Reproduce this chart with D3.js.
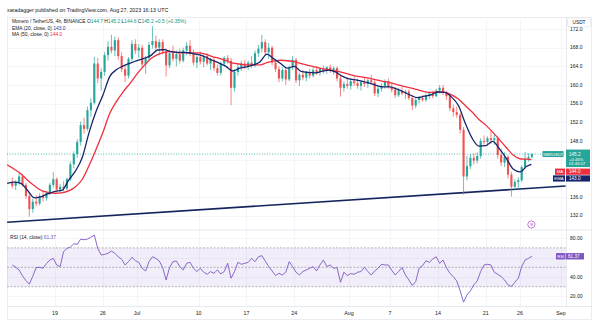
<!DOCTYPE html>
<html><head><meta charset="utf-8">
<script src="https://cdn.jsdelivr.net/npm/d3@7"></script>
<style>html,body{margin:0;padding:0;background:#fff;overflow:hidden}svg{display:block;font-family:"Liberation Sans",Arial,sans-serif}</style>
</head><body><svg id="c" width="600" height="324"></svg>
<script>
// ---------- data ----------
const candleStart = "2023-06-12T12:00:00Z"; // 12h candles
const ohlc = [
[139.0,140.2,137.8,138.4],[138.4,139.6,137.5,139.2],[139.2,141.2,138.6,140.4],[140.4,140.9,138.2,138.6],
[138.6,139.0,135.6,136.2],[136.2,136.8,131.8,133.4],[133.4,135.6,132.6,135.0],[135.0,136.4,134.0,134.6],
[134.6,136.8,134.2,136.2],[136.2,137.4,135.0,135.8],[135.8,137.2,135.2,136.9],[136.9,139.0,136.4,138.6],
[138.6,141.4,138.0,139.8],[139.8,140.2,137.0,137.6],[137.6,138.8,136.8,138.2],[138.2,139.4,137.2,137.8],
[137.8,140.2,137.4,139.8],[139.8,143.6,139.4,143.0],[143.0,145.8,142.2,145.2],[145.2,148.4,144.4,147.8],
[147.8,152.2,147.0,151.4],[151.4,153.0,149.6,150.6],[150.6,155.4,150.2,154.6],[154.6,157.2,153.2,156.2],
[156.2,166.0,155.8,164.6],[164.6,165.8,160.4,161.4],[161.4,163.6,158.8,162.8],[162.8,167.0,162.0,166.4],
[166.4,169.4,165.2,168.2],[168.2,170.8,166.8,167.4],[167.4,170.4,166.2,169.6],[169.6,170.2,165.4,166.2],
[166.2,167.0,162.8,163.4],[163.4,164.2,160.6,162.0],[162.0,166.0,161.4,165.6],[165.6,169.6,165.0,168.8],
[168.8,169.8,166.6,167.4],[167.4,168.8,165.8,168.0],[168.0,168.6,163.6,164.4],[164.4,166.2,162.4,165.8],
[165.8,169.2,165.2,168.6],[168.6,172.6,167.8,169.4],[169.4,170.6,167.0,168.0],[168.0,169.8,166.4,169.2],
[169.2,169.8,166.6,167.2],[167.2,167.8,161.8,164.2],[164.2,167.6,163.6,166.8],[166.8,168.4,165.0,165.6],
[165.6,167.4,164.0,166.6],[166.6,167.8,164.6,165.2],[165.2,168.0,164.8,167.4],[167.4,169.2,166.4,168.4],
[168.4,169.6,166.2,166.8],[166.8,167.6,164.2,164.8],[164.8,166.4,163.6,166.0],[166.0,167.2,164.4,165.0],
[165.0,166.6,163.8,166.2],[166.2,166.8,164.2,164.6],[164.6,165.8,163.2,165.4],[165.4,166.0,163.0,163.6],
[163.6,164.4,162.0,162.6],[162.6,165.0,162.0,164.6],[164.6,166.2,164.0,165.8],[165.8,166.4,164.6,165.2],
[165.2,165.8,155.7,159.4],[159.4,163.4,158.6,162.8],[162.8,164.6,162.0,163.8],[163.8,165.2,163.0,164.6],
[164.6,165.4,163.4,164.0],[164.0,165.2,163.2,164.8],[164.8,166.2,163.6,164.2],[164.2,167.4,163.8,166.8],
[166.8,168.6,166.0,167.8],[167.8,170.7,167.0,169.2],[169.2,169.8,166.4,167.0],[167.0,169.0,165.6,168.0],
[168.0,168.4,164.2,164.8],[164.8,165.6,162.8,163.4],[163.4,164.0,160.6,161.4],[161.4,163.8,160.8,163.2],
[163.2,163.8,160.0,161.2],[161.2,164.2,160.8,163.8],[163.8,166.2,163.2,165.4],[165.4,165.8,160.4,161.0],
[161.0,162.6,159.8,162.2],[162.2,163.2,161.0,161.6],[161.6,163.0,160.8,162.6],[162.6,163.4,161.4,162.0],
[162.0,163.8,161.6,163.2],[163.2,164.0,162.2,162.8],[162.8,163.8,162.0,163.4],[163.4,164.2,162.4,163.0],
[163.0,164.0,162.4,163.8],[163.8,164.4,162.6,163.2],[163.2,164.0,162.2,163.6],[163.6,164.0,160.8,161.4],
[161.4,162.0,157.5,159.4],[159.4,160.8,158.6,160.2],[160.2,161.6,159.2,159.8],[159.8,161.4,159.0,160.8],
[160.8,161.8,159.8,160.4],[160.4,161.4,159.2,159.8],[159.8,161.0,158.8,160.6],[160.6,161.6,159.6,160.2],
[160.2,161.4,159.4,161.0],[161.0,162.1,160.2,160.6],[160.6,161.0,157.6,158.2],[158.2,159.8,157.4,159.2],
[159.2,160.4,158.6,159.8],[159.8,161.2,159.2,160.8],[160.8,161.4,159.2,159.6],[159.6,160.4,158.4,159.0],
[159.0,159.6,157.2,157.8],[157.8,159.4,157.4,158.8],[158.8,159.6,157.8,158.2],[158.2,159.0,157.0,158.6],
[158.6,159.0,156.8,157.2],[157.2,157.8,154.6,155.6],[155.6,157.4,155.0,156.8],[156.8,157.6,156.0,157.2],
[157.2,157.8,156.4,156.8],[156.8,158.2,156.4,157.8],[157.8,158.6,157.0,158.2],[158.2,158.8,157.2,157.6],
[157.6,159.2,157.4,158.8],[158.8,160.0,158.2,159.4],[159.4,160.0,157.8,158.4],[158.4,158.8,156.8,157.6],
[157.6,158.0,154.4,155.0],[155.0,155.8,153.2,154.2],[154.2,155.4,153.0,153.6],[153.6,154.0,149.6,150.4],
[150.4,151.0,136.5,140.4],[140.4,144.8,139.6,142.6],[142.6,145.2,142.0,144.4],[144.4,145.4,143.0,143.8],
[143.8,145.6,143.2,144.8],[144.8,148.6,144.2,148.0],[148.0,149.2,147.2,147.8],[147.8,149.0,147.0,148.6],
[148.6,150.2,147.4,148.2],[148.2,149.4,147.2,148.6],[148.6,149.0,144.2,145.0],[145.0,146.4,142.6,143.4],
[143.4,145.6,142.4,144.6],[144.6,145.0,140.0,140.8],[140.8,141.4,136.1,138.2],[138.2,139.8,137.4,139.2],
[139.2,140.2,137.8,139.6],[139.6,142.8,139.2,142.4],[142.4,145.6,142.0,144.2],[144.2,145.4,143.6,144.6],
[144.6,145.4,144.2,145.2]
];
const rsiValues = [
52.4,50.0,47.3,41.1,36.3,32.6,40.8,49.7,50.0,49.0,53.8,57.5,59.2,52.4,50.7,66.1,69.5,70.9,74.3,73.6,
79.1,78.4,79.1,81.0,83.2,69.5,62.7,63.3,64.4,66.8,64.4,60.9,58.2,52.4,55.8,60.3,56.8,55.1,49.0,46.2,
55.8,60.9,59.2,56.5,49.7,37.0,49.7,55.8,56.5,50.7,47.3,54.1,55.1,49.0,45.6,49.0,44.9,42.8,45.6,43.8,
47.3,43.2,45.6,54.1,38.7,45.6,55.1,53.1,54.1,55.1,59.2,55.8,60.9,62.0,56.5,50.7,46.2,41.5,43.8,42.1,
44.9,55.8,50.7,44.9,42.1,45.6,47.3,49.0,50.7,46.2,52.4,57.5,50.7,52.4,49.0,49.7,34.6,44.9,41.5,43.5,
42.8,44.9,45.6,50.0,45.6,42.1,46.2,49.0,53.1,52.4,52.4,46.9,42.1,45.6,49.7,42.1,37.0,31.2,35.3,49.0,
51.7,56.8,55.1,58.6,60.9,54.1,57.5,49.7,43.8,40.4,36.0,25.7,14.1,21.6,25.7,31.9,36.0,45.6,52.4,53.1,
52.4,44.9,42.8,40.4,37.0,31.9,30.2,34.6,38.7,50.7,57.5,59.2,61.37
];
const lineStart = "2023-06-12T00:00:00Z"; // daily samples of the indicator lines
const emaDaily = [138.9,139.2,138.9,137.4,135.8,136.1,136.7,137.2,137.4,139.6,141.6,144.5,149.9,154.3,157.8,161.8,
163.3,164.1,164.7,165.2,165.7,166.3,167.5,167.6,167.1,167.0,167.0,166.8,166.5,166.0,165.3,164.7,164.0,163.0,
163.6,163.9,164.3,165.0,166.6,165.6,164.6,163.6,164.0,162.9,162.7,162.6,162.9,163.2,162.8,161.9,161.3,161.1,
160.8,160.4,159.9,159.6,159.6,159.1,158.5,157.8,157.3,157.6,157.9,158.5,158.4,157.4,155.6,151.8,148.6,146.9,
147.0,147.9,146.3,144.3,142.0,141.4,142.6];
const maDaily = [142.9,142.0,141.0,139.6,138.4,137.4,137.0,136.8,136.9,137.3,138.2,139.8,142.8,146.2,149.8,153.9,
156.5,158.6,160.4,162.4,164.1,165.6,166.5,167.0,167.2,166.9,166.9,166.9,166.9,166.6,166.1,165.7,165.2,164.7,
164.5,164.3,164.3,164.3,164.8,165.1,165.3,165.2,165.0,164.6,164.2,163.9,163.5,163.3,163.0,162.7,162.3,161.9,
161.7,161.4,161.1,160.8,160.5,160.1,159.7,159.4,159.0,158.6,158.4,158.5,158.4,157.9,157.0,155.6,154.2,152.6,
151.4,149.9,148.3,146.6,145.0,144.2,144.1];
const lastBarTime = "2023-08-27T16:00:00Z";
const emaLast = 143.0, maLast = 144.0, rsiLast = 61.37;
const lastPrice = 145.2;
const trendDates = ["2023-06-12T00:00:00Z", "2023-09-01T16:00:00Z"];
const trendPrices = [130.6, 138.35];
const priceTicks = [132,136,140,144,148,152,156,160,164,168,172];
const priceTicksHidden = [140,144];
const rsiTicks = [20,40,60,80];
const rsiTicksHidden = [60];
const rsiBands = [30,50,70];
const timeTickDates = ["2023-06-19","2023-06-26","2023-07-01","2023-07-10","2023-07-17","2023-07-24","2023-08-01","2023-08-07","2023-08-14","2023-08-21","2023-08-26","2023-09-01"];
const timeTickLabels = ["19","26","Jul","10","17","24","Aug","7","14","21","26","Sep"];

// ---------- layout ----------
const svg = d3.select("#c");
const L = 7, R = 566, AX = 592;
const pTop = 17, pBot = 229.5, rTop = 230, rBot = 306.5, B = 320;
const UP = "#26a69a", DN = "#ef5350", EMA_C = "#15256e", MA_C = "#ef2f3f", RSI_C = "#7e57c2", TXT = "#131722";

const x = d3.scaleUtc().domain([new Date("2023-06-19T00:00:00Z"), new Date("2023-09-01T00:00:00Z")]).range([55, 561]);
const y = d3.scaleLinear().domain([148, 172]).range([141, 29]);
const yr = d3.scaleLinear().domain([30, 70]).range([286.7, 247.9]);

const H12 = 12*3600*1000;
const t0 = new Date(candleStart).getTime();
const candles = ohlc.map((d,i)=>({t:new Date(t0 + i*H12), o:d[0], h:d[1], l:d[2], c:d[3], rsi:rsiValues[i]}));
const ls = new Date(lineStart).getTime();
const DAY = 24*3600*1000;
const emaPts = emaDaily.map((v,i)=>({t:new Date(ls+i*DAY), v})).concat([{t:new Date(lastBarTime), v:emaLast}]);
const maPts = maDaily.map((v,i)=>({t:new Date(ls+i*DAY), v})).concat([{t:new Date(lastBarTime), v:maLast}]);

// clips
const defs = svg.append("defs");
defs.append("clipPath").attr("id","cp").append("rect").attr("x",L).attr("y",pTop).attr("width",R-L).attr("height",pBot-pTop);
defs.append("clipPath").attr("id","cr").append("rect").attr("x",L).attr("y",rTop).attr("width",R-L).attr("height",rBot-rTop);

// attribution
svg.append("text").attr("x",L).attr("y",11.8).attr("font-size",5.3).attr("fill",TXT)
  .text("xaradagger published on TradingView.com, Aug 27, 2023 16:13 UTC");

// frame
svg.append("rect").attr("x",L+0.5).attr("y",pTop+0.5).attr("width",AX-L-1).attr("height",B-pTop-1)
  .attr("fill","none").attr("stroke","#e6e8ee").attr("stroke-width",0.8);

// grids
const grid = svg.append("g").attr("stroke","#f0f2f7").attr("stroke-width",0.8);
timeTickDates.forEach(d=>{ const xx = Math.round(x(new Date(d+"T00:00:00Z")))+0.5;
  grid.append("line").attr("x1",xx).attr("x2",xx).attr("y1",pTop).attr("y2",rBot); });
priceTicks.forEach(p=>{ const yy = Math.round(y(p))+0.5;
  grid.append("line").attr("x1",L).attr("x2",R).attr("y1",yy).attr("y2",yy); });
rsiTicks.forEach(p=>{ const yy = Math.round(yr(p))+0.5;
  grid.append("line").attr("x1",L).attr("x2",R).attr("y1",yy).attr("y2",yy); });

// separators
const sep = svg.append("g").attr("stroke","#e0e3eb").attr("stroke-width",0.8);
sep.append("line").attr("x1",L).attr("x2",AX).attr("y1",pBot+0.5).attr("y2",pBot+0.5);
sep.append("line").attr("x1",L).attr("x2",AX).attr("y1",rBot).attr("y2",rBot);
sep.append("line").attr("x1",R+0.5).attr("x2",R+0.5).attr("y1",pTop).attr("y2",rBot);

// ---------- price pane ----------
const gp = svg.append("g").attr("clip-path","url(#cp)");
// last price dotted line
gp.append("line").attr("x1",L).attr("x2",R).attr("y1",y(lastPrice)).attr("y2",y(lastPrice))
  .attr("stroke",UP).attr("stroke-width",0.8).attr("stroke-dasharray","1,1.6");
// trend line
gp.append("line").attr("x1",x(new Date(trendDates[0]))).attr("y1",y(trendPrices[0]))
  .attr("x2",x(new Date(trendDates[1]))).attr("y2",y(trendPrices[1]))
  .attr("stroke","#14245c").attr("stroke-width",1.6);
// candles
const cw = (x(new Date(t0+H12)) - x(new Date(t0))) * 0.62;
const cg = gp.append("g");
candles.forEach(d=>{
  const cx = x(new Date(d.t.getTime()+H12/2));
  const col = d.c >= d.o ? UP : DN;
  cg.append("line").attr("x1",cx).attr("x2",cx).attr("y1",y(d.h)).attr("y2",y(d.l)).attr("stroke",col).attr("stroke-width",0.7);
  const top = y(Math.max(d.o,d.c)), bot = y(Math.min(d.o,d.c));
  cg.append("rect").attr("x",cx-cw/2).attr("y",top).attr("width",cw).attr("height",Math.max(0.6,bot-top)).attr("fill",col);
});
const line = d3.line().x(d=>x(d.t)).y(d=>y(d.v)).curve(d3.curveMonotoneX);
gp.append("path").datum(maPts).attr("d",line).attr("fill","none").attr("stroke",MA_C).attr("stroke-width",1.3);
gp.append("path").datum(emaPts).attr("d",line).attr("fill","none").attr("stroke",EMA_C).attr("stroke-width",1.3);

// event marker
const ex = x(new Date(lastBarTime)), ey = pBot - 5;
svg.append("circle").attr("cx",ex).attr("cy",ey).attr("r",3.6).attr("fill","#fff").attr("stroke","#b05cc8").attr("stroke-width",0.8);
svg.append("text").attr("x",ex).attr("y",ey+1.6).attr("text-anchor","middle").attr("font-size",4.4).attr("fill","#9c27b0").text("9");

// legend
const lg = svg.append("g").attr("font-size",4.9).attr("fill",TXT);
const l1 = lg.append("text").attr("x",12).attr("y",23.2);
l1.append("tspan").text("Monero / TetherUS, 4h, BINANCE  ");
const last = candles[candles.length-1];
[["O","144.7"],["H","145.2"],["L","144.6"],["C","145.2"]].forEach(p=>{
  l1.append("tspan").text(p[0]); l1.append("tspan").attr("fill","#089981").text(p[1]+"  ");
});
l1.append("tspan").attr("fill","#089981").text("+0.5 (+0.35%)");
const l2 = lg.append("text").attr("x",12).attr("y",29.6);
l2.append("tspan").text("EMA (20, close, 0)  "); l2.append("tspan").attr("fill","#1e3a9a").text(emaLast.toFixed(1));
const l3 = lg.append("text").attr("x",12).attr("y",35.8);
l3.append("tspan").text("MA (50, close, 0)  "); l3.append("tspan").attr("fill",MA_C).text(maLast.toFixed(1));

// price axis labels
const pa = svg.append("g").attr("font-size",5).attr("fill",TXT);
priceTicks.filter(p=>!priceTicksHidden.includes(p)).forEach(p=>{
  pa.append("text").attr("x",570).attr("y",y(p)+1.8).text(p.toFixed(1));
});
// USDT box
svg.append("rect").attr("x",567.5).attr("y",17.8).attr("width",23).attr("height",9).attr("rx",1.5)
  .attr("fill","#fff").attr("stroke","#e0e3eb").attr("stroke-width",0.7);
svg.append("text").attr("x",579).attr("y",24).attr("text-anchor","middle").attr("font-size",4.8).attr("fill",TXT).text("USDT");

// last price boxes
const py = y(lastPrice);
svg.append("rect").attr("x",542.5).attr("y",py-3).attr("width",21).attr("height",6).attr("fill",UP);
svg.append("text").attr("x",553).attr("y",py+1.5).attr("text-anchor","middle").attr("font-size",4.1).attr("fill","#fff").text("XMRUSDT");
svg.append("rect").attr("x",566).attr("y",py-4.5).attr("width",24).attr("height",17.5).attr("fill",UP);
const pb = svg.append("g").attr("font-size",4.6).attr("fill","#fff");
pb.append("text").attr("x",569).attr("y",py+1.5).text(lastPrice.toFixed(1));
pb.append("text").attr("x",569).attr("y",py+6.5).attr("font-size",4.2).text("+0.45%");
pb.append("text").attr("x",569).attr("y",py+11.3).attr("font-size",4.2).text("01:46:07");
// MA / EMA boxes stacked below
[[ "MA", maLast, MA_C, py+14.5], ["EMA", emaLast, EMA_C, py+21.3]].forEach(r=>{
  const [nm, v, col, yy] = r;
  const w = nm==="MA" ? 10 : 12;
  svg.append("rect").attr("x",565-w).attr("y",yy).attr("width",w).attr("height",6.2).attr("fill",col);
  svg.append("rect").attr("x",566).attr("y",yy).attr("width",24).attr("height",6.2).attr("fill",col);
  svg.append("text").attr("x",565-w/2).attr("y",yy+4.6).attr("text-anchor","middle").attr("font-size",4.3).attr("fill","#fff").text(nm);
  svg.append("text").attr("x",569).attr("y",yy+4.7).attr("font-size",4.6).attr("fill","#fff").text(v.toFixed(1));
});

// ---------- RSI pane ----------
const gr = svg.append("g").attr("clip-path","url(#cr)");
gr.append("rect").attr("x",L).attr("width",R-L).attr("y",yr(70)).attr("height",yr(30)-yr(70)).attr("fill","rgba(126,87,194,0.10)");
rsiBands.forEach(v=>{
  gr.append("line").attr("x1",L).attr("x2",R).attr("y1",yr(v)).attr("y2",yr(v))
    .attr("stroke","#9598a1").attr("stroke-width",0.7).attr("stroke-dasharray","2,1.5");
});
const rl = d3.line().x(d=>x(new Date(d.t.getTime()+H12/2))).y(d=>yr(d.rsi));
gr.append("path").datum(candles).attr("d",rl).attr("fill","none").attr("stroke",RSI_C).attr("stroke-width",0.9);

const rl1 = svg.append("text").attr("x",10).attr("y",239).attr("font-size",4.9).attr("fill",TXT);
rl1.append("tspan").text("RSI (14, close)  "); rl1.append("tspan").attr("fill",RSI_C).text(rsiLast.toFixed(2));

const ra = svg.append("g").attr("font-size",5).attr("fill",TXT);
rsiTicks.filter(v=>!rsiTicksHidden.includes(v)).forEach(v=>{
  ra.append("text").attr("x",570).attr("y",yr(v)+1.8).text(v.toFixed(2));
});
const ry = yr(rsiLast);
svg.append("rect").attr("x",556).attr("y",ry-3.2).attr("width",9.5).attr("height",6.4).attr("fill",RSI_C);
svg.append("rect").attr("x",566).attr("y",ry-3.2).attr("width",18).attr("height",6.4).attr("fill",RSI_C);
svg.append("text").attr("x",560.7).attr("y",ry+1.5).attr("text-anchor","middle").attr("font-size",4.2).attr("fill","#fff").text("RSI");
svg.append("text").attr("x",568).attr("y",ry+1.6).attr("font-size",4.6).attr("fill","#fff").text(rsiLast.toFixed(2));

// ---------- time axis ----------
const ta = svg.append("g").attr("font-size",5.3).attr("fill",TXT).attr("text-anchor","middle");
timeTickDates.forEach((d,i)=>{
  ta.append("text").attr("x",x(new Date(d+"T00:00:00Z"))).attr("y",315).text(timeTickLabels[i]);
});
</script></body></html>
